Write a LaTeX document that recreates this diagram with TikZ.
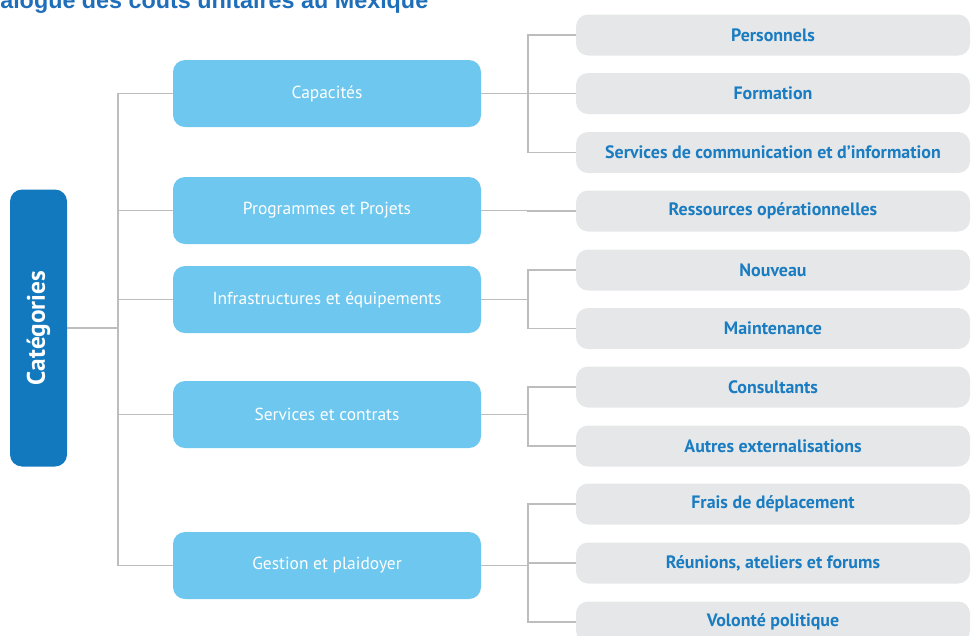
\documentclass[tikz,border=0pt]{standalone}
\usepackage{fontspec}
\setmainfont{PT Sans}
\newfontfamily\titrefont{Liberation Sans}
\usetikzlibrary{positioning}
\definecolor{catfond}{HTML}{1379BF}
\definecolor{rubfond}{HTML}{6DC7EF}
\definecolor{sousfond}{HTML}{E6E7E9}
\definecolor{soustexte}{HTML}{1A7CC1}
\definecolor{lienligne}{HTML}{BDBDBD}
\definecolor{titre}{HTML}{1F6EB9}

\begin{document}
\begin{tikzpicture}[
  every node/.style={inner sep=0pt},
  categorie/.style={fill=catfond, rounded corners=3mm, rotate=90,
    minimum width=6.925cm, minimum height=1.425cm,
    text=white, font=\fontsize{18}{21}\selectfont\bfseries},
  rubrique/.style={fill=rubfond, rounded corners=3mm,
    minimum width=7.7cm, minimum height=1.675cm,
    text=white, font=\fontsize{12.4}{14}\selectfont},
  sousrub/.style={fill=sousfond, rounded corners=3mm,
    minimum width=9.85cm, minimum height=1.025cm,
    text=soustexte, font=\fontsize{12.75}{15}\selectfont\bfseries},
  lien/.style={draw=lienligne, line width=1.2pt},
  entete/.style={text=titre, font=\titrefont\fontsize{16.6}{18}\selectfont\bfseries, anchor=base west}
]
\useasboundingbox (0,0) rectangle (24.275,-15.875);
\node[entete] (Titre) at (0.000,-0.220) {alogue des coûts unitaires au Mexique};
\node[categorie] (Categories) at (0.963,-8.200) {Catégories};
\node[rubrique] (Capacites) at (8.175,-2.338) {Capacités};
\node[rubrique] (Programmes) at (8.175,-5.263) {Programmes et Projets};
\node[rubrique] (Infrastructures) at (8.175,-7.488) {Infrastructures et équipements};
\node[rubrique] (Services) at (8.175,-10.363) {Services et contrats};
\node[rubrique] (Gestion) at (8.175,-14.138) {Gestion et plaidoyer};
\node[sousrub] (Personnels) at (19.325,-0.875) {Personnels};
\node[sousrub] (Formation) at (19.325,-2.338) {Formation};
\node[sousrub] (Communication) at (19.325,-3.813) {Services de communication et d’information};
\node[sousrub] (Ressources) at (19.325,-5.275) {Ressources opérationnelles};
\node[sousrub] (Nouveau) at (19.325,-6.750) {Nouveau};
\node[sousrub] (Maintenance) at (19.325,-8.213) {Maintenance};
\node[sousrub] (Consultants) at (19.325,-9.675) {Consultants};
\node[sousrub] (Externalisations) at (19.325,-11.150) {Autres externalisations};
\node[sousrub] (Deplacement) at (19.325,-12.600) {Frais de déplacement};
\node[sousrub] (Reunions) at (19.325,-14.075) {Réunions, ateliers et forums};
\node[sousrub] (Volonte) at (19.325,-15.550) {Volonté politique};
\foreach \r in {Capacites,Programmes,Infrastructures,Services,Gestion}
  \draw[lien] (Categories.south) -- ++(1.275,0) |- (\r.west);
\foreach \s in {Personnels,Formation,Communication}
  \draw[lien] (Capacites.east) -- ++(1.175,0) |- (\s.west);
\draw[lien] (Programmes.east) -- ++(1.175,0) |- (Ressources.west);
\foreach \s in {Nouveau,Maintenance}
  \draw[lien] (Infrastructures.east) -- ++(1.175,0) |- (\s.west);
\foreach \s in {Consultants,Externalisations}
  \draw[lien] (Services.east) -- ++(1.175,0) |- (\s.west);
\foreach \s in {Deplacement,Reunions,Volonte}
  \draw[lien] (Gestion.east) -- ++(1.175,0) |- (\s.west);
\end{tikzpicture}
\end{document}
